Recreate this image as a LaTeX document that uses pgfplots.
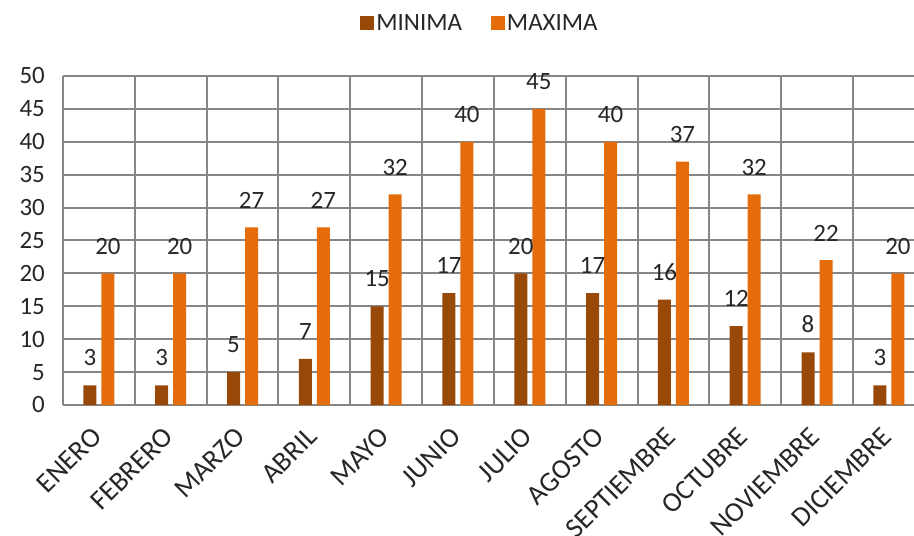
\documentclass[border=0pt]{standalone}
\usepackage{fontspec}
\setmainfont{Carlito}
\usepackage{pgfplots}
\pgfplotsset{compat=1.18}
\definecolor{cmin}{HTML}{984807}
\definecolor{cmax}{HTML}{E46C0A}
\definecolor{cgrid}{HTML}{868686}
\definecolor{ctext}{HTML}{262626}
\begin{document}
\begin{tikzpicture}
\begin{axis}[
  at={(63bp,131bp)}, anchor=south west,
  scale only axis,
  width=851bp, height=329bp,
  xmin=-0.5, xmax=11.35,
  ymin=0, ymax=50,
  ybar=5bp, bar width=13bp,
  axis line style={draw=none},
  xtick={0,...,11},
  xticklabels={ENERO,FEBRERO,MARZO,ABRIL,MAYO,JUNIO,JULIO,AGOSTO,SEPTIEMBRE,OCTUBRE,NOVIEMBRE,DICIEMBRE},
  minor xtick={-0.5,0.5,...,10.5},
  xminorgrids=true,
  ytick={0,5,...,50},
  ymajorgrids=true,
  grid style={cgrid, line width=2bp},
  minor grid style={cgrid, line width=2bp},
  major tick length=0pt, minor tick length=0pt,
  tick label style={font=\fontsize{25}{30}\selectfont, text=ctext},
  /pgf/number format/assume math mode=true,
  yticklabel style={inner sep=0pt, anchor=east, xshift=-18bp},
  xticklabel style={font=\fontsize{28}{32}\selectfont, xshift=-2bp, yshift=-27bp, rotate=45, anchor=east, inner sep=0pt},
  nodes near coords,
  every node near coord/.append style={font=\fontsize{25}{30}\selectfont, text=ctext, inner sep=0pt, anchor=south, yshift=19bp},
  clip=false,
  legend columns=2,
  legend style={at={(0.49,1.161)}, anchor=center, draw=none, fill=none,
    font=\fontsize{25}{30}\selectfont, text=ctext,
    /tikz/every even column/.append style={column sep=27bp}},
  legend image code/.code={\path[#1,draw=none] (0bp,-7bp) rectangle (14bp,7bp);},
]
\addplot[fill=cmin, draw=none] coordinates {(0,3) (1,3) (2,5) (3,7) (4,15) (5,17) (6,20) (7,17) (8,16) (9,12) (10,8) (11,3)};
\addplot[fill=cmax, draw=none] coordinates {(0,20) (1,20) (2,27) (3,27) (4,32) (5,40) (6,45) (7,40) (8,37) (9,32) (10,22) (11,20)};
\legend{MINIMA,MAXIMA}
\end{axis}
\pgfresetboundingbox
\path[use as bounding box] (0,0) rectangle (914bp,536bp);
\end{tikzpicture}
\end{document}
